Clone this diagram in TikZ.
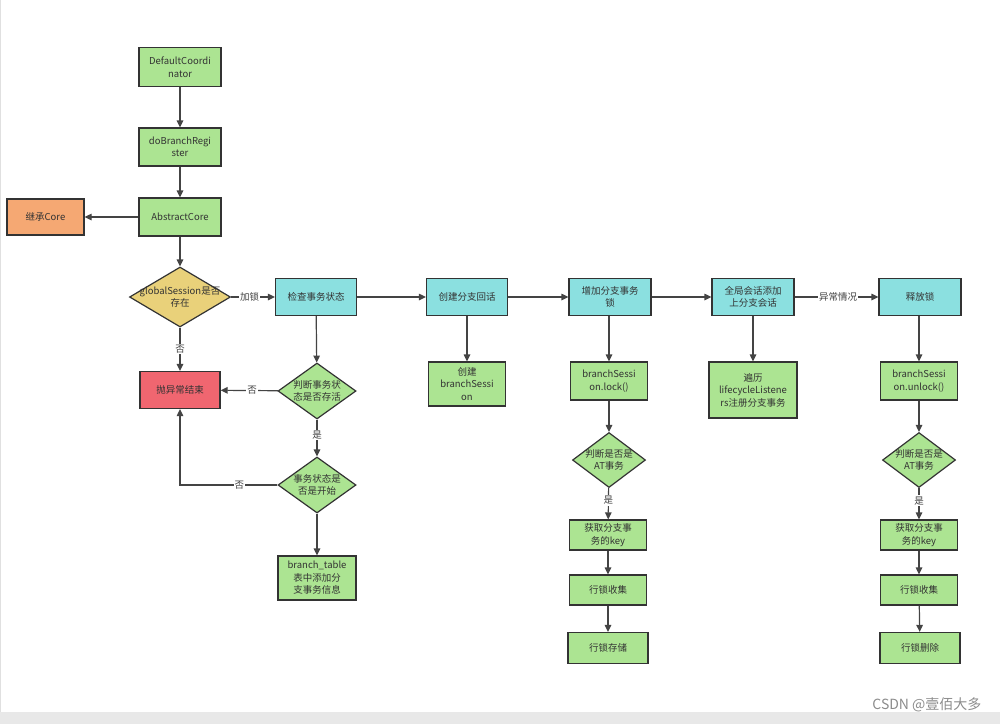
\documentclass[tikz,border=0pt]{standalone}
\usepackage{fontspec}
\setmainfont{Noto Sans CJK SC}
\usetikzlibrary{shapes.geometric,arrows.meta}
\definecolor{gbox}{HTML}{ACE492}
\definecolor{cbox}{HTML}{8BE0E0}
\definecolor{obox}{HTML}{F5A873}
\definecolor{rbox}{HTML}{F06670}
\definecolor{ybox}{HTML}{E9D17A}
\definecolor{edge}{HTML}{333333}
\definecolor{wire}{HTML}{444444}
\begin{document}
\begin{tikzpicture}[x=1pt,y=-1pt,
  box/.style={draw=edge, line width=1.2pt, inner sep=0pt, align=center,
    font=\fontsize{9.5}{12.5}\selectfont, text=black!80},
  dia/.style={diamond, draw=edge, line width=1.2pt, inner sep=0pt, fill=gbox},
  dtext/.style={align=center, font=\fontsize{9.5}{12.5}\selectfont, text=black!80},
  conn/.style={draw=wire, line width=1.2pt, -{Triangle[length=7pt,width=6.5pt]}},
  lbl/.style={fill=white, inner sep=1pt, font=\fontsize{9.5}{11}\selectfont, text=black!75},
]
\useasboundingbox (0,0) rectangle (1000,724);
\fill[white] (0,0) rectangle (1000,724);
\fill[black!9] (0,712) rectangle (1000,724);
\draw[black!12, line width=0.8pt] (0.5,0) -- (0.5,712);

% left column
\node[box, fill=gbox, minimum width=82pt, minimum height=39pt] (dc) at (180,67) {DefaultCoordi\\nator};
\node[box, fill=gbox, minimum width=82pt, minimum height=38pt] (dbr) at (180,147) {doBranchRegi\\ster};
\node[box, fill=gbox, minimum width=82pt, minimum height=38pt] (ac) at (180,217) {AbstractCore};
\node[box, fill=obox, minimum width=77pt, minimum height=36pt] (core) at (45.5,217) {继承Core};
\node[dia, fill=ybox, minimum width=101pt, minimum height=60pt,
  label={[dtext]center:globalSession是否\\存在}] (d1) at (180,297) {};
\node[box, fill=rbox, minimum width=80pt, minimum height=37pt] (exc) at (180,390) {抛异常结束};

% check column
\node[box, fill=cbox, minimum width=81pt, minimum height=37pt] (check) at (316,297) {检查事务状态};
\node[dia, minimum width=78pt, minimum height=56pt,
  label={[dtext]center:判断事务状\\态是否存活}] (d2) at (317,391) {};
\node[dia, minimum width=78pt, minimum height=56pt,
  label={[dtext]center:事务状态是\\否是开始}] (d3) at (317,485) {};
\node[box, fill=gbox, minimum width=78pt, minimum height=44pt] (bt) at (317,578) {branch\_table\\表中添加分\\支事务信息};

% create column
\node[box, fill=cbox, minimum width=81pt, minimum height=37pt] (create) at (467,297) {创建分支回话};
\node[box, fill=gbox, minimum width=77pt, minimum height=44pt] (cbs) at (467,384) {创建\\branchSessi\\on};

% lock column
\node[box, fill=cbox, minimum width=82pt, minimum height=37pt] (lock) at (610,297) {增加分支事务\\锁};
\node[box, fill=gbox, minimum width=77pt, minimum height=38pt] (bsl) at (609,381) {branchSessi\\on.lock()};
\node[dia, minimum width=73pt, minimum height=55pt,
  label={[dtext]center:判断是否是\\AT事务}] (d4) at (609,460) {};
\node[box, fill=gbox, minimum width=77pt, minimum height=30pt] (key1) at (608,535) {获取分支事\\务的key};
\node[box, fill=gbox, minimum width=77pt, minimum height=30pt] (col1) at (608,590) {行锁收集};
\node[box, fill=gbox, minimum width=80pt, minimum height=31pt] (store) at (608,648) {行锁存储};

% global column
\node[box, fill=cbox, minimum width=82pt, minimum height=37pt] (glob) at (753,297) {全局会话添加\\上分支会话};
\node[box, fill=gbox, minimum width=88pt, minimum height=56pt] (trav) at (753,390) {遍历\\lifecycleListene\\rs注册分支事务};

% release column
\node[box, fill=cbox, minimum width=82pt, minimum height=37pt] (rel) at (920,297) {释放锁};
\node[box, fill=gbox, minimum width=77pt, minimum height=38pt] (bsu) at (919,381) {branchSessi\\on.unlock()};
\node[dia, minimum width=73pt, minimum height=55pt,
  label={[dtext]center:判断是否是\\AT事务}] (d5) at (919,460) {};
\node[box, fill=gbox, minimum width=77pt, minimum height=30pt] (key2) at (919,535) {获取分支事\\务的key};
\node[box, fill=gbox, minimum width=77pt, minimum height=30pt] (col2) at (919,590) {行锁收集};
\node[box, fill=gbox, minimum width=80pt, minimum height=31pt] (del) at (920,648) {行锁删除};

% connectors
\draw[conn] (dc) -- (dbr);
\draw[conn] (dbr) -- (ac);
\draw[conn] (ac) -- (core);
\draw[conn] (ac) -- (d1);
\draw[conn] (d1) -- node[lbl, pos=0.42] {加锁} (check);
\draw[conn] (d1) -- node[lbl, pos=0.5] {否} (exc);
\draw[conn] (check) -- (d2);
\draw[conn] (d2) -- node[lbl, pos=0.45] {否} (exc);
\draw[conn] (d2) -- node[lbl, pos=0.42] {是} (d3);
\draw[conn] (d3.west) -| node[lbl, pos=0.195] {否} (exc.south);
\draw[conn] (d3) -- (bt);
\draw[conn] (check) -- (create);
\draw[conn] (create) -- (cbs);
\draw[conn] (create) -- (lock);
\draw[conn] (lock) -- (glob);
\draw[conn] (lock.south -| bsl) -- (bsl);
\draw[conn] (bsl) -- (d4);
\draw[conn] (d4) -- node[lbl, pos=0.4] {是} (key1);
\draw[conn] (key1) -- (col1);
\draw[conn] (col1) -- (store);
\draw[conn] (glob) -- (trav);
\draw[conn] (glob) -- node[lbl, pos=0.52] {异常情况} (rel);
\draw[conn] (rel.south -| bsu) -- (bsu);
\draw[conn] (bsu) -- (d5);
\draw[conn] (d5) -- node[lbl, pos=0.4] {是} (key2);
\draw[conn] (key2) -- (col2);
\draw[conn] (col2) -- (del);

\node[anchor=east, font=\fontsize{14}{16}\selectfont, text=black!45] (wm) at (985,705) {CSDN @壹佰大多};
\end{tikzpicture}
\end{document}
